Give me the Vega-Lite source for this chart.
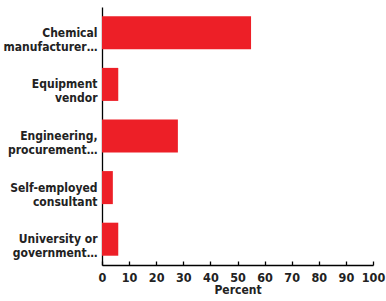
{
  "$schema": "https://vega.github.io/schema/vega-lite/v6.json",
  "width": 271,
  "height": 258,
  "autosize": "none",
  "padding": {"left": 102, "top": 7, "right": 13, "bottom": 36},
  "background": "white",
  "data": {"values": [
    {"category": "Chemical\nmanufacturer…", "percent": 55},
    {"category": "Equipment\nvendor", "percent": 6},
    {"category": "Engineering,\nprocurement…", "percent": 28},
    {"category": "Self-employed\nconsultant", "percent": 4},
    {"category": "University or\ngovernment…", "percent": 6}
  ]},
  "mark": {"type": "bar", "color": "#ED1F27"},
  "encoding": {
    "y": {
      "field": "category", "type": "nominal", "sort": null,
      "scale": {"paddingInner": 0.36, "paddingOuter": 0.18},
      "axis": {
        "title": null, "ticks": false, "domainColor": "black", "domainWidth": 1.3,
        "labelExpr": "split(datum.label, '\\n')",
        "labelFont": "DejaVu Sans Condensed", "labelFontWeight": "bold",
        "labelFontSize": 12, "labelColor": "#222", "labelPadding": 5, "labelLineHeight": 14, "labelLimit": 200
      }
    },
    "x": {
      "field": "percent", "type": "quantitative",
      "scale": {"domain": [0, 100], "nice": false},
      "axis": {
        "title": "Percent", "values": [0,10,20,30,40,50,60,70,80,90,100],
        "grid": false, "domainColor": "black", "domainWidth": 1.3,
        "tickColor": "black", "tickSize": -4, "tickWidth": 1.3, "labelPadding": 10,
        "labelFont": "DejaVu Sans Condensed", "labelFontWeight": "bold", "labelFontSize": 12.5, "labelColor": "#222",
        "labelFlush": false,
        "titleFont": "DejaVu Sans Condensed", "titleFontWeight": "bold", "titleFontSize": 12, "titleColor": "#222", "titlePadding": 1
      }
    }
  },
  "config": {"view": {"stroke": null}}
}
